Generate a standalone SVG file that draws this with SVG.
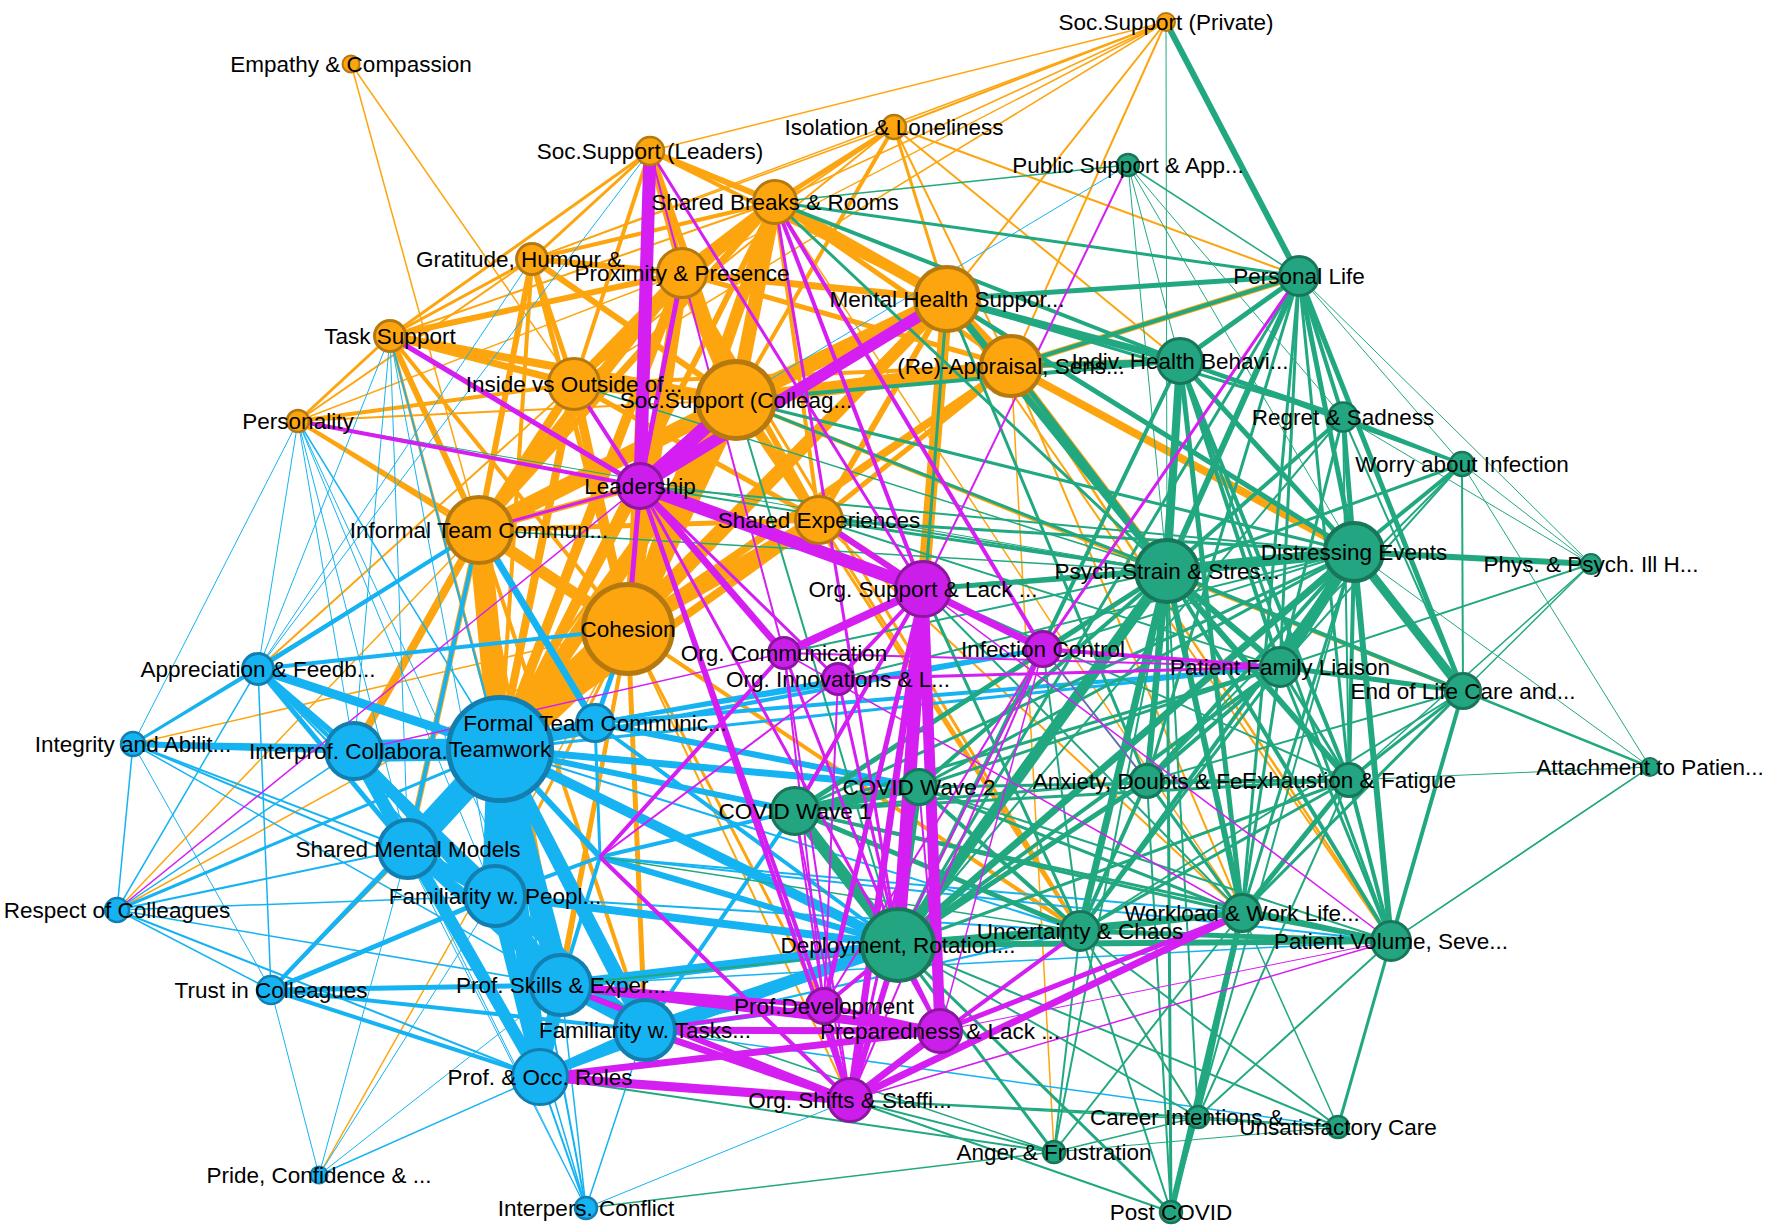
<svg xmlns="http://www.w3.org/2000/svg" width="1772" height="1232" viewBox="0 0 1772 1232">
<style>
path{fill:none;stroke-linecap:butt}
.o{stroke:#FDA50F}.b{stroke:#16B3F2}.g{stroke:#22A881}.m{stroke:#D41EF2}
.no{fill:#FDA50F;stroke:#B5790F}.nb{fill:#16B3F2;stroke:#127FB0}.nm{fill:#CC1EEA;stroke:#8C169F}.ng{fill:#22A580;stroke:#18765A}
text{font-family:"Liberation Sans",Arial,Helvetica,sans-serif;font-size:22.5px;fill:#000;text-anchor:middle;dominant-baseline:central}
.st{text-anchor:start}
</style>
<rect width="1772" height="1232" fill="#fff"/>
<g id="connectors">
<g id="edges-orange">
<path class="o" stroke-width="34" d="M500 749 628 629"/>
<path class="o" stroke-width="22" d="M500 749 479 530"/>
<path class="o" stroke-width="16" d="M500 749 736 400"/>
<path class="o" stroke-width="10" d="M500 749 682 273"/>
<path class="o" stroke-width="9" d="M500 749 947 299"/>
<path class="o" stroke-width="6" d="M500 749 775 202"/>
<path class="o" stroke-width="8" d="M500 749 574 384"/>
<path class="o" stroke-width="4" d="M500 749 532 259"/>
<path class="o" stroke-width="3" d="M500 749 390 336"/>
<path class="o" stroke-width="8" d="M500 749 819 520"/>
<path class="o" stroke-width="8" d="M500 749 640 486"/>
<path class="o" stroke-width="16" d="M479 530 736 400"/>
<path class="o" stroke-width="12" d="M479 530 682 273"/>
<path class="o" stroke-width="12" d="M479 530 628 629"/>
<path class="o" stroke-width="9" d="M479 530 574 384"/>
<path class="o" stroke-width="6" d="M479 530 532 259"/>
<path class="o" stroke-width="6" d="M479 530 390 336"/>
<path class="o" stroke-width="7" d="M479 530 775 202"/>
<path class="o" stroke-width="6" d="M479 530 947 299"/>
<path class="o" stroke-width="5" d="M479 530 819 520"/>
<path class="o" stroke-width="4" d="M479 530 298 421"/>
<path class="o" stroke-width="6" d="M479 530 640 486"/>
<path class="o" stroke-width="20" d="M628 629 736 400"/>
<path class="o" stroke-width="14" d="M628 629 682 273"/>
<path class="o" stroke-width="12" d="M628 629 775 202"/>
<path class="o" stroke-width="12" d="M628 629 947 299"/>
<path class="o" stroke-width="14" d="M628 629 819 520"/>
<path class="o" stroke-width="9" d="M628 629 574 384"/>
<path class="o" stroke-width="5" d="M628 629 532 259"/>
<path class="o" stroke-width="8" d="M628 629 1011 366"/>
<path class="o" stroke-width="4" d="M628 629 390 336"/>
<path class="o" stroke-width="3" d="M628 629 298 421"/>
<path class="o" stroke-width="5" d="M628 629 650 151"/>
<path class="o" stroke-width="10" d="M628 629 640 486"/>
<path class="o" stroke-width="16" d="M736 400 947 299"/>
<path class="o" stroke-width="14" d="M736 400 775 202"/>
<path class="o" stroke-width="14" d="M736 400 682 273"/>
<path class="o" stroke-width="14" d="M736 400 1011 366"/>
<path class="o" stroke-width="10" d="M736 400 574 384"/>
<path class="o" stroke-width="6" d="M736 400 532 259"/>
<path class="o" stroke-width="7" d="M736 400 650 151"/>
<path class="o" stroke-width="8" d="M736 400 390 336"/>
<path class="o" stroke-width="10" d="M736 400 819 520"/>
<path class="o" stroke-width="4" d="M736 400 894 127"/>
<path class="o" stroke-width="2" d="M736 400 298 421"/>
<path class="o" stroke-width="11" d="M947 299 775 202"/>
<path class="o" stroke-width="10" d="M947 299 1011 366"/>
<path class="o" stroke-width="7" d="M947 299 682 273"/>
<path class="o" stroke-width="12" d="M947 299 923 589"/>
<path class="o" stroke-width="3" d="M947 299 894 127"/>
<path class="o" stroke-width="4" d="M947 299 650 151"/>
<path class="o" stroke-width="3" d="M947 299 532 259"/>
<path class="o" stroke-width="6" d="M947 299 819 520"/>
<path class="o" stroke-width="11" d="M775 202 682 273"/>
<path class="o" stroke-width="6" d="M775 202 650 151"/>
<path class="o" stroke-width="5" d="M775 202 894 127"/>
<path class="o" stroke-width="6" d="M775 202 574 384"/>
<path class="o" stroke-width="4" d="M775 202 532 259"/>
<path class="o" stroke-width="5" d="M775 202 1011 366"/>
<path class="o" stroke-width="4" d="M775 202 819 520"/>
<path class="o" stroke-width="9" d="M682 273 574 384"/>
<path class="o" stroke-width="7" d="M682 273 650 151"/>
<path class="o" stroke-width="6" d="M682 273 532 259"/>
<path class="o" stroke-width="6" d="M682 273 390 336"/>
<path class="o" stroke-width="5" d="M682 273 1011 366"/>
<path class="o" stroke-width="6" d="M682 273 819 520"/>
<path class="o" stroke-width="5" d="M574 384 532 259"/>
<path class="o" stroke-width="7" d="M574 384 390 336"/>
<path class="o" stroke-width="4" d="M574 384 298 421"/>
<path class="o" stroke-width="4" d="M574 384 650 151"/>
<path class="o" stroke-width="4" d="M574 384 1011 366"/>
<path class="o" stroke-width="8" d="M1011 366 1354 552"/>
<path class="o" stroke-width="7" d="M1011 366 1167 571"/>
<path class="o" stroke-width="6" d="M1011 366 1180 361"/>
<path class="o" stroke-width="6" d="M1011 366 1299 276"/>
<path class="o" stroke-width="5" d="M1011 366 819 520"/>
<path class="o" stroke-width="1.5" d="M1011 366 1054 1152"/>
<path class="o" stroke-width="2" d="M1011 366 894 127"/>
<path class="o" stroke-width="2.5" d="M1011 366 1391 941"/>
<path class="o" stroke-width="2" d="M1011 366 1242 913"/>
<path class="o" stroke-width="4" d="M736 400 1463 691"/>
<path class="o" stroke-width="5" d="M819 520 574 384"/>
<path class="o" stroke-width="3" d="M819 520 1080 931"/>
<path class="o" stroke-width="2" d="M819 520 1242 913"/>
<path class="o" stroke-width="6" d="M819 520 923 589"/>
<path class="o" stroke-width="1.5" d="M819 520 1198 1117"/>
<path class="o" stroke-width="2" d="M894 127 1166 22"/>
<path class="o" stroke-width="2" d="M894 127 1299 276"/>
<path class="o" stroke-width="2" d="M894 127 1180 361"/>
<path class="o" stroke-width="2" d="M894 127 682 273"/>
<path class="o" stroke-width="1.5" d="M894 127 532 259"/>
<path class="o" stroke-width="2" d="M894 127 574 384"/>
<path class="o" stroke-width="1.5" d="M1166 22 650 151"/>
<path class="o" stroke-width="1.5" d="M1166 22 682 273"/>
<path class="o" stroke-width="1.5" d="M1166 22 775 202"/>
<path class="o" stroke-width="1.5" d="M1166 22 532 259"/>
<path class="o" stroke-width="2" d="M1166 22 947 299"/>
<path class="o" stroke-width="2" d="M1166 22 1011 366"/>
<path class="o" stroke-width="1.5" d="M1166 22 574 384"/>
<path class="o" stroke-width="1.5" d="M351 64 479 530"/>
<path class="o" stroke-width="1.5" d="M351 64 574 384"/>
<path class="o" stroke-width="3" d="M390 336 532 259"/>
<path class="o" stroke-width="3" d="M390 336 298 421"/>
<path class="o" stroke-width="3" d="M390 336 650 151"/>
<path class="o" stroke-width="2" d="M390 336 775 202"/>
<path class="o" stroke-width="3" d="M532 259 650 151"/>
<path class="o" stroke-width="3" d="M532 259 775 202"/>
<path class="o" stroke-width="2" d="M532 259 298 421"/>
<path class="o" stroke-width="1.5" d="M298 421 682 273"/>
<path class="o" stroke-width="8" d="M479 530 354 751"/>
<path class="o" stroke-width="6" d="M479 530 408 849"/>
<path class="o" stroke-width="4" d="M479 530 561 985"/>
<path class="o" stroke-width="4" d="M479 530 645 1030"/>
<path class="o" stroke-width="3" d="M628 629 495 896"/>
<path class="o" stroke-width="3" d="M628 629 540 1077"/>
<path class="o" stroke-width="3" d="M736 400 408 849"/>
<path class="o" stroke-width="4" d="M628 629 561 985"/>
<path class="o" stroke-width="5" d="M628 629 645 1030"/>
<path class="o" stroke-width="3" d="M628 629 824 1006"/>
<path class="o" stroke-width="2" d="M628 629 850 1100"/>
<path class="o" stroke-width="4" d="M628 629 1080 931"/>
<path class="o" stroke-width="3" d="M736 400 1080 931"/>
<path class="o" stroke-width="3" d="M682 273 1080 931"/>
<path class="o" stroke-width="2" d="M947 299 1391 941"/>
<path class="o" stroke-width="1.5" d="M775 202 1242 913"/>
<path class="o" stroke-width="1.5" d="M133 744 479 530"/>
<path class="o" stroke-width="2" d="M258 669 574 384"/>
<path class="o" stroke-width="1.5" d="M117 910 479 530"/>
<path class="o" stroke-width="1.5" d="M117 910 628 629"/>
<path class="o" stroke-width="1.5" d="M271 990 628 629"/>
<path class="o" stroke-width="1.5" d="M319 1175 628 629"/>
<path class="o" stroke-width="1.5" d="M133 744 628 629"/>
</g>
<g id="edges-blue">
<path class="b" stroke-width="22" d="M500 749 354 751"/>
<path class="b" stroke-width="26" d="M500 749 408 849"/>
<path class="b" stroke-width="26" d="M500 749 495 896"/>
<path class="b" stroke-width="22" d="M500 749 561 985"/>
<path class="b" stroke-width="14" d="M500 749 645 1030"/>
<path class="b" stroke-width="18" d="M500 749 540 1077"/>
<path class="b" stroke-width="12" d="M500 749 595 723"/>
<path class="b" stroke-width="9" d="M500 749 258 669"/>
<path class="b" stroke-width="5" d="M500 749 133 744"/>
<path class="b" stroke-width="3" d="M500 749 117 910"/>
<path class="b" stroke-width="4" d="M500 749 271 990"/>
<path class="b" stroke-width="10" d="M500 749 898 945"/>
<path class="b" stroke-width="7" d="M500 749 919 787"/>
<path class="b" stroke-width="6" d="M500 749 795 811"/>
<path class="b" stroke-width="4" d="M500 749 1043 649"/>
<path class="b" stroke-width="3" d="M500 749 1280 667"/>
<path class="b" stroke-width="6" d="M500 749 600 857"/>
<path class="b" stroke-width="2" d="M500 749 586 1208"/>
<path class="b" stroke-width="12" d="M354 751 408 849"/>
<path class="b" stroke-width="9" d="M354 751 495 896"/>
<path class="b" stroke-width="12" d="M354 751 540 1077"/>
<path class="b" stroke-width="9" d="M354 751 561 985"/>
<path class="b" stroke-width="6" d="M354 751 258 669"/>
<path class="b" stroke-width="6" d="M354 751 133 744"/>
<path class="b" stroke-width="5" d="M354 751 645 1030"/>
<path class="b" stroke-width="12" d="M408 849 495 896"/>
<path class="b" stroke-width="9" d="M408 849 561 985"/>
<path class="b" stroke-width="10" d="M408 849 540 1077"/>
<path class="b" stroke-width="6" d="M408 849 645 1030"/>
<path class="b" stroke-width="12" d="M495 896 561 985"/>
<path class="b" stroke-width="10" d="M495 896 645 1030"/>
<path class="b" stroke-width="12" d="M495 896 540 1077"/>
<path class="b" stroke-width="8" d="M495 896 898 945"/>
<path class="b" stroke-width="12" d="M561 985 645 1030"/>
<path class="b" stroke-width="14" d="M561 985 540 1077"/>
<path class="b" stroke-width="10" d="M561 985 898 945"/>
<path class="b" stroke-width="5" d="M561 985 271 990"/>
<path class="b" stroke-width="10" d="M645 1030 540 1077"/>
<path class="b" stroke-width="12" d="M645 1030 898 945"/>
<path class="b" stroke-width="4" d="M645 1030 795 811"/>
<path class="b" stroke-width="2" d="M540 1077 586 1208"/>
<path class="b" stroke-width="4" d="M540 1077 271 990"/>
<path class="b" stroke-width="1.5" d="M540 1077 319 1175"/>
<path class="b" stroke-width="6" d="M540 1077 898 945"/>
<path class="b" stroke-width="4" d="M595 723 1043 649"/>
<path class="b" stroke-width="4" d="M595 723 1280 667"/>
<path class="b" stroke-width="6" d="M595 723 919 787"/>
<path class="b" stroke-width="4" d="M595 723 898 945"/>
<path class="b" stroke-width="3" d="M595 723 600 857"/>
<path class="b" stroke-width="3" d="M595 723 838 679"/>
<path class="b" stroke-width="6" d="M600 857 898 945"/>
<path class="b" stroke-width="4" d="M600 857 795 811"/>
<path class="b" stroke-width="4" d="M600 857 495 896"/>
<path class="b" stroke-width="4" d="M600 857 561 985"/>
<path class="b" stroke-width="4" d="M258 669 479 530"/>
<path class="b" stroke-width="5" d="M258 669 408 849"/>
<path class="b" stroke-width="4" d="M258 669 495 896"/>
<path class="b" stroke-width="3" d="M258 669 133 744"/>
<path class="b" stroke-width="1.5" d="M258 669 117 910"/>
<path class="b" stroke-width="1.5" d="M258 669 271 990"/>
<path class="b" stroke-width="4" d="M258 669 628 629"/>
<path class="b" stroke-width="2" d="M258 669 561 985"/>
<path class="b" stroke-width="2" d="M133 744 408 849"/>
<path class="b" stroke-width="2" d="M133 744 495 896"/>
<path class="b" stroke-width="1.5" d="M133 744 117 910"/>
<path class="b" stroke-width="1" d="M133 744 271 990"/>
<path class="b" stroke-width="1.5" d="M133 744 561 985"/>
<path class="b" stroke-width="2" d="M117 910 408 849"/>
<path class="b" stroke-width="1.5" d="M117 910 495 896"/>
<path class="b" stroke-width="1.5" d="M117 910 271 990"/>
<path class="b" stroke-width="1.5" d="M117 910 561 985"/>
<path class="b" stroke-width="2" d="M117 910 540 1077"/>
<path class="b" stroke-width="1.5" d="M117 910 354 751"/>
<path class="b" stroke-width="3" d="M271 990 408 849"/>
<path class="b" stroke-width="5" d="M271 990 495 896"/>
<path class="b" stroke-width="4" d="M271 990 645 1030"/>
<path class="b" stroke-width="1" d="M319 1175 271 990"/>
<path class="b" stroke-width="1" d="M319 1175 495 896"/>
<path class="b" stroke-width="1" d="M319 1175 408 849"/>
<path class="b" stroke-width="1" d="M319 1175 561 985"/>
<path class="b" stroke-width="1.5" d="M586 1208 561 985"/>
<path class="b" stroke-width="1.5" d="M586 1208 645 1030"/>
<path class="b" stroke-width="1" d="M586 1208 408 849"/>
<path class="b" stroke-width="1.5" d="M586 1208 495 896"/>
<path class="b" stroke-width="1" d="M586 1208 354 751"/>
<path class="b" stroke-width="1" d="M586 1208 850 1100"/>
<path class="b" stroke-width="1" d="M298 421 354 751"/>
<path class="b" stroke-width="1" d="M298 421 408 849"/>
<path class="b" stroke-width="1.5" d="M298 421 500 749"/>
<path class="b" stroke-width="1" d="M298 421 258 669"/>
<path class="b" stroke-width="1" d="M298 421 495 896"/>
<path class="b" stroke-width="1" d="M298 421 561 985"/>
<path class="b" stroke-width="1" d="M298 421 133 744"/>
<path class="b" stroke-width="1" d="M390 336 354 751"/>
<path class="b" stroke-width="1" d="M390 336 408 849"/>
<path class="b" stroke-width="1.5" d="M390 336 500 749"/>
<path class="b" stroke-width="1" d="M390 336 258 669"/>
<path class="b" stroke-width="1" d="M390 336 561 985"/>
<path class="b" stroke-width="1" d="M390 336 495 896"/>
<path class="b" stroke-width="1" d="M532 259 258 669"/>
<path class="b" stroke-width="1" d="M650 151 258 669"/>
<path class="b" stroke-width="7" d="M479 530 595 723"/>
<path class="b" stroke-width="3" d="M479 530 258 669"/>
<path class="b" stroke-width="4" d="M479 530 408 849"/>
<path class="b" stroke-width="2" d="M479 530 133 744"/>
<path class="b" stroke-width="5" d="M628 629 595 723"/>
<path class="b" stroke-width="2" d="M645 1030 1080 931"/>
<path class="b" stroke-width="1.5" d="M561 985 1391 941"/>
<path class="b" stroke-width="2" d="M500 749 1080 931"/>
<path class="b" stroke-width="2" d="M495 896 1080 931"/>
<path class="b" stroke-width="2" d="M600 857 1391 941"/>
<path class="b" stroke-width="2" d="M600 857 1242 913"/>
<path class="b" stroke-width="1.5" d="M645 1030 1338 1127"/>
<path class="b" stroke-width="5" d="M645 1030 940 1031"/>
<path class="b" stroke-width="5" d="M645 1030 824 1006"/>
<path class="b" stroke-width="4" d="M561 985 940 1031"/>
<path class="b" stroke-width="1" d="M1128 165 736 400"/>
<path class="b" stroke-width="1" d="M1354 552 1147 781"/>
</g>
<g id="edges-green">
<path class="g" stroke-width="11" d="M1167 571 1354 552"/>
<path class="g" stroke-width="8" d="M1167 571 1180 361"/>
<path class="g" stroke-width="6" d="M1167 571 1299 276"/>
<path class="g" stroke-width="11" d="M1167 571 898 945"/>
<path class="g" stroke-width="7" d="M1167 571 1080 931"/>
<path class="g" stroke-width="6" d="M1167 571 1242 913"/>
<path class="g" stroke-width="6" d="M1167 571 1349 780"/>
<path class="g" stroke-width="6" d="M1167 571 1147 781"/>
<path class="g" stroke-width="6" d="M1167 571 1280 667"/>
<path class="g" stroke-width="7" d="M1167 571 947 299"/>
<path class="g" stroke-width="5" d="M1167 571 1011 366"/>
<path class="g" stroke-width="4" d="M1167 571 1343 417"/>
<path class="g" stroke-width="3" d="M1167 571 1462 464"/>
<path class="g" stroke-width="4" d="M1167 571 1463 691"/>
<path class="g" stroke-width="5" d="M1167 571 795 811"/>
<path class="g" stroke-width="4" d="M1167 571 919 787"/>
<path class="g" stroke-width="4" d="M1167 571 1391 941"/>
<path class="g" stroke-width="5" d="M1167 571 923 589"/>
<path class="g" stroke-width="2" d="M1167 571 1198 1117"/>
<path class="g" stroke-width="2" d="M1167 571 1054 1152"/>
<path class="g" stroke-width="3" d="M1167 571 1171 1212"/>
<path class="g" stroke-width="3" d="M1167 571 736 400"/>
<path class="g" stroke-width="3" d="M1167 571 819 520"/>
<path class="g" stroke-width="2" d="M1167 571 640 486"/>
<path class="g" stroke-width="11" d="M1354 552 1280 667"/>
<path class="g" stroke-width="9" d="M1354 552 1463 691"/>
<path class="g" stroke-width="6" d="M1354 552 1591 564"/>
<path class="g" stroke-width="5" d="M1354 552 1343 417"/>
<path class="g" stroke-width="4" d="M1354 552 1462 464"/>
<path class="g" stroke-width="5" d="M1354 552 1299 276"/>
<path class="g" stroke-width="5" d="M1354 552 1180 361"/>
<path class="g" stroke-width="7" d="M1354 552 898 945"/>
<path class="g" stroke-width="6" d="M1354 552 1391 941"/>
<path class="g" stroke-width="4" d="M1354 552 1349 780"/>
<path class="g" stroke-width="4" d="M1354 552 1147 781"/>
<path class="g" stroke-width="4" d="M1354 552 1080 931"/>
<path class="g" stroke-width="3" d="M1354 552 1242 913"/>
<path class="g" stroke-width="3" d="M1354 552 795 811"/>
<path class="g" stroke-width="5" d="M1354 552 947 299"/>
<path class="g" stroke-width="1" d="M1354 552 1650 767"/>
<path class="g" stroke-width="2" d="M1354 552 1171 1212"/>
<path class="g" stroke-width="3" d="M1354 552 736 400"/>
<path class="g" stroke-width="3" d="M1354 552 923 589"/>
<path class="g" stroke-width="6" d="M1299 276 1166 22"/>
<path class="g" stroke-width="5" d="M1299 276 1180 361"/>
<path class="g" stroke-width="4" d="M1299 276 1343 417"/>
<path class="g" stroke-width="5" d="M1299 276 1463 691"/>
<path class="g" stroke-width="1.5" d="M1299 276 1128 165"/>
<path class="g" stroke-width="5" d="M1299 276 947 299"/>
<path class="g" stroke-width="3" d="M1299 276 1280 667"/>
<path class="g" stroke-width="1" d="M1299 276 1462 464"/>
<path class="g" stroke-width="1" d="M1299 276 1591 564"/>
<path class="g" stroke-width="3" d="M1299 276 775 202"/>
<path class="g" stroke-width="3" d="M1299 276 898 945"/>
<path class="g" stroke-width="3" d="M1299 276 1349 780"/>
<path class="g" stroke-width="3" d="M1299 276 1242 913"/>
<path class="g" stroke-width="3" d="M1299 276 1147 781"/>
<path class="g" stroke-width="4" d="M1299 276 1011 366"/>
<path class="g" stroke-width="4" d="M1180 361 1343 417"/>
<path class="g" stroke-width="3" d="M1180 361 1462 464"/>
<path class="g" stroke-width="4" d="M1180 361 1349 780"/>
<path class="g" stroke-width="5" d="M1180 361 1242 913"/>
<path class="g" stroke-width="7" d="M1180 361 947 299"/>
<path class="g" stroke-width="4" d="M1180 361 1147 781"/>
<path class="g" stroke-width="4" d="M1180 361 898 945"/>
<path class="g" stroke-width="4" d="M1180 361 775 202"/>
<path class="g" stroke-width="3" d="M1180 361 1391 941"/>
<path class="g" stroke-width="4" d="M1180 361 1280 667"/>
<path class="g" stroke-width="5" d="M1180 361 1011 366"/>
<path class="g" stroke-width="4" d="M1180 361 736 400"/>
<path class="g" stroke-width="3" d="M775 202 1167 571"/>
<path class="g" stroke-width="3" d="M1343 417 1462 464"/>
<path class="g" stroke-width="2" d="M1343 417 1463 691"/>
<path class="g" stroke-width="3" d="M1343 417 1280 667"/>
<path class="g" stroke-width="2" d="M1343 417 898 945"/>
<path class="g" stroke-width="1" d="M1343 417 1591 564"/>
<path class="g" stroke-width="2" d="M1343 417 1349 780"/>
<path class="g" stroke-width="3" d="M1343 417 947 299"/>
<path class="g" stroke-width="1" d="M1462 464 1591 564"/>
<path class="g" stroke-width="1" d="M1462 464 1650 767"/>
<path class="g" stroke-width="2" d="M1462 464 1280 667"/>
<path class="g" stroke-width="2" d="M1462 464 1147 781"/>
<path class="g" stroke-width="2" d="M1462 464 1463 691"/>
<path class="g" stroke-width="2" d="M1591 564 1280 667"/>
<path class="g" stroke-width="1.5" d="M1591 564 1463 691"/>
<path class="g" stroke-width="1.5" d="M1591 564 1349 780"/>
<path class="g" stroke-width="5" d="M1280 667 1463 691"/>
<path class="g" stroke-width="3" d="M1280 667 1349 780"/>
<path class="g" stroke-width="4" d="M1280 667 1147 781"/>
<path class="g" stroke-width="4" d="M1280 667 898 945"/>
<path class="g" stroke-width="3" d="M1280 667 1080 931"/>
<path class="g" stroke-width="3" d="M1280 667 1242 913"/>
<path class="g" stroke-width="3" d="M1280 667 1391 941"/>
<path class="g" stroke-width="3" d="M1280 667 795 811"/>
<path class="g" stroke-width="2.5" d="M1463 691 1650 767"/>
<path class="g" stroke-width="3" d="M1463 691 1349 780"/>
<path class="g" stroke-width="4" d="M1463 691 1391 941"/>
<path class="g" stroke-width="2" d="M1463 691 1080 931"/>
<path class="g" stroke-width="2" d="M1463 691 1147 781"/>
<path class="g" stroke-width="3" d="M1463 691 1242 913"/>
<path class="g" stroke-width="1.5" d="M1650 767 1391 941"/>
<path class="g" stroke-width="1" d="M1650 767 1349 780"/>
<path class="g" stroke-width="3" d="M1147 781 1349 780"/>
<path class="g" stroke-width="4" d="M1147 781 1080 931"/>
<path class="g" stroke-width="5" d="M1147 781 898 945"/>
<path class="g" stroke-width="3" d="M1147 781 1242 913"/>
<path class="g" stroke-width="3" d="M1147 781 795 811"/>
<path class="g" stroke-width="2" d="M1147 781 1171 1212"/>
<path class="g" stroke-width="3" d="M1147 781 947 299"/>
<path class="g" stroke-width="5" d="M1349 780 1242 913"/>
<path class="g" stroke-width="4" d="M1349 780 1391 941"/>
<path class="g" stroke-width="3" d="M1349 780 1080 931"/>
<path class="g" stroke-width="3" d="M1349 780 898 945"/>
<path class="g" stroke-width="2" d="M1349 780 1198 1117"/>
<path class="g" stroke-width="3" d="M1349 780 919 787"/>
<path class="g" stroke-width="10" d="M795 811 919 787"/>
<path class="g" stroke-width="12" d="M795 811 898 945"/>
<path class="g" stroke-width="6" d="M919 787 898 945"/>
<path class="g" stroke-width="5" d="M795 811 1080 931"/>
<path class="g" stroke-width="4" d="M919 787 1080 931"/>
<path class="g" stroke-width="3" d="M795 811 1242 913"/>
<path class="g" stroke-width="3" d="M919 787 1242 913"/>
<path class="g" stroke-width="3" d="M795 811 1391 941"/>
<path class="g" stroke-width="3" d="M795 811 1349 780"/>
<path class="g" stroke-width="3" d="M919 787 1280 667"/>
<path class="g" stroke-width="3" d="M919 787 1354 552"/>
<path class="g" stroke-width="2" d="M919 787 1391 941"/>
<path class="g" stroke-width="3" d="M795 811 923 589"/>
<path class="g" stroke-width="9" d="M898 945 1080 931"/>
<path class="g" stroke-width="6" d="M898 945 1242 913"/>
<path class="g" stroke-width="6" d="M898 945 1391 941"/>
<path class="g" stroke-width="2" d="M898 945 1198 1117"/>
<path class="g" stroke-width="3" d="M898 945 1054 1152"/>
<path class="g" stroke-width="3" d="M898 945 1171 1212"/>
<path class="g" stroke-width="2" d="M898 945 1338 1127"/>
<path class="g" stroke-width="5" d="M898 945 923 589"/>
<path class="g" stroke-width="5" d="M1080 931 1242 913"/>
<path class="g" stroke-width="5" d="M1080 931 1391 941"/>
<path class="g" stroke-width="2" d="M1080 931 1054 1152"/>
<path class="g" stroke-width="2" d="M1080 931 1198 1117"/>
<path class="g" stroke-width="2" d="M1080 931 1338 1127"/>
<path class="g" stroke-width="2" d="M1080 931 1171 1212"/>
<path class="g" stroke-width="5" d="M1242 913 1391 941"/>
<path class="g" stroke-width="6" d="M1242 913 1171 1212"/>
<path class="g" stroke-width="3" d="M1242 913 1198 1117"/>
<path class="g" stroke-width="2" d="M1242 913 1054 1152"/>
<path class="g" stroke-width="1.5" d="M1242 913 1338 1127"/>
<path class="g" stroke-width="3" d="M1391 941 1338 1127"/>
<path class="g" stroke-width="1.5" d="M1391 941 1650 767"/>
<path class="g" stroke-width="2" d="M1391 941 1198 1117"/>
<path class="g" stroke-width="1.5" d="M1198 1117 1054 1152"/>
<path class="g" stroke-width="1.5" d="M1198 1117 1338 1127"/>
<path class="g" stroke-width="1" d="M1054 1152 1338 1127"/>
<path class="g" stroke-width="2" d="M1054 1152 850 1100"/>
<path class="g" stroke-width="1.5" d="M1054 1152 586 1208"/>
<path class="g" stroke-width="2" d="M1054 1152 540 1077"/>
<path class="g" stroke-width="1.5" d="M1054 1152 561 985"/>
<path class="g" stroke-width="2" d="M850 1100 1198 1117"/>
<path class="g" stroke-width="1.5" d="M850 1100 1338 1127"/>
<path class="g" stroke-width="2" d="M850 1100 1171 1212"/>
<path class="g" stroke-width="1" d="M1128 165 1354 552"/>
<path class="g" stroke-width="1" d="M1128 165 1167 571"/>
<path class="g" stroke-width="1" d="M1128 165 1180 361"/>
<path class="g" stroke-width="1" d="M1128 165 1343 417"/>
<path class="g" stroke-width="1.5" d="M1128 165 775 202"/>
<path class="g" stroke-width="1" d="M1166 22 1167 571"/>
<path class="g" stroke-width="3" d="M947 299 898 945"/>
<path class="g" stroke-width="2" d="M736 400 898 945"/>
<path class="g" stroke-width="3" d="M923 589 1080 931"/>
<path class="g" stroke-width="2" d="M923 589 1242 913"/>
<path class="g" stroke-width="2" d="M923 589 1349 780"/>
<path class="g" stroke-width="1.5" d="M600 857 1080 931"/>
<path class="g" stroke-width="2" d="M561 985 1080 931"/>
<path class="g" stroke-width="1" d="M298 421 1167 571"/>
<path class="g" stroke-width="1.5" d="M574 384 1167 571"/>
<path class="g" stroke-width="1.5" d="M479 530 1167 571"/>
<path class="g" stroke-width="3" d="M819 520 1354 552"/>
<path class="g" stroke-width="2" d="M819 520 1280 667"/>
<path class="g" stroke-width="2" d="M640 486 1354 552"/>
<path class="g" stroke-width="2" d="M784 653 1167 571"/>
<path class="g" stroke-width="2" d="M838 679 1354 552"/>
<path class="g" stroke-width="3" d="M1043 649 1167 571"/>
<path class="g" stroke-width="2" d="M1043 649 1354 552"/>
<path class="g" stroke-width="2" d="M1043 649 1147 781"/>
<path class="g" stroke-width="2" d="M1043 649 1080 931"/>
</g>
<g id="edges-magenta">
<path class="m" stroke-width="13" d="M640 486 650 151"/>
<path class="m" stroke-width="14" d="M640 486 736 400"/>
<path class="m" stroke-width="12" d="M640 486 947 299"/>
<path class="m" stroke-width="13" d="M640 486 923 589"/>
<path class="m" stroke-width="5" d="M640 486 390 336"/>
<path class="m" stroke-width="4" d="M640 486 298 421"/>
<path class="m" stroke-width="7" d="M640 486 784 653"/>
<path class="m" stroke-width="4" d="M640 486 850 1100"/>
<path class="m" stroke-width="4" d="M640 486 824 1006"/>
<path class="m" stroke-width="3" d="M640 486 838 679"/>
<path class="m" stroke-width="3" d="M640 486 940 1031"/>
<path class="m" stroke-width="3" d="M640 486 479 530"/>
<path class="m" stroke-width="1.5" d="M640 486 117 910"/>
<path class="m" stroke-width="5" d="M640 486 682 273"/>
<path class="m" stroke-width="4" d="M640 486 574 384"/>
<path class="m" stroke-width="5" d="M640 486 628 629"/>
<path class="m" stroke-width="13" d="M923 589 898 945"/>
<path class="m" stroke-width="11" d="M923 589 940 1031"/>
<path class="m" stroke-width="7" d="M923 589 850 1100"/>
<path class="m" stroke-width="7" d="M923 589 1043 649"/>
<path class="m" stroke-width="8" d="M923 589 784 653"/>
<path class="m" stroke-width="4" d="M923 589 775 202"/>
<path class="m" stroke-width="3" d="M923 589 650 151"/>
<path class="m" stroke-width="2" d="M923 589 1128 165"/>
<path class="m" stroke-width="4" d="M923 589 795 811"/>
<path class="m" stroke-width="5" d="M923 589 824 1006"/>
<path class="m" stroke-width="4" d="M923 589 838 679"/>
<path class="m" stroke-width="6" d="M923 589 819 520"/>
<path class="m" stroke-width="1.5" d="M923 589 1391 941"/>
<path class="m" stroke-width="4" d="M775 202 1043 649"/>
<path class="m" stroke-width="3" d="M775 202 898 945"/>
<path class="m" stroke-width="3" d="M1299 276 1043 649"/>
<path class="m" stroke-width="4" d="M1043 649 1280 667"/>
<path class="m" stroke-width="3" d="M838 679 1280 667"/>
<path class="m" stroke-width="2" d="M784 653 1280 667"/>
<path class="m" stroke-width="1" d="M1043 649 1147 781"/>
<path class="m" stroke-width="2" d="M1043 649 850 1100"/>
<path class="m" stroke-width="2" d="M1043 649 898 945"/>
<path class="m" stroke-width="1.5" d="M1043 649 940 1031"/>
<path class="m" stroke-width="2" d="M1043 649 824 1006"/>
<path class="m" stroke-width="6" d="M898 945 850 1100"/>
<path class="m" stroke-width="7" d="M940 1031 850 1100"/>
<path class="m" stroke-width="4" d="M824 1006 850 1100"/>
<path class="m" stroke-width="5" d="M824 1006 940 1031"/>
<path class="m" stroke-width="4" d="M898 945 940 1031"/>
<path class="m" stroke-width="4" d="M898 945 824 1006"/>
<path class="m" stroke-width="9" d="M850 1100 540 1077"/>
<path class="m" stroke-width="7" d="M850 1100 645 1030"/>
<path class="m" stroke-width="6" d="M850 1100 561 985"/>
<path class="m" stroke-width="9" d="M940 1031 561 985"/>
<path class="m" stroke-width="7" d="M940 1031 540 1077"/>
<path class="m" stroke-width="7" d="M940 1031 645 1030"/>
<path class="m" stroke-width="5" d="M824 1006 561 985"/>
<path class="m" stroke-width="4" d="M824 1006 645 1030"/>
<path class="m" stroke-width="7" d="M850 1100 1242 913"/>
<path class="m" stroke-width="5" d="M940 1031 1242 913"/>
<path class="m" stroke-width="4" d="M850 1100 1080 931"/>
<path class="m" stroke-width="1.5" d="M850 1100 1391 941"/>
<path class="m" stroke-width="1" d="M940 1031 1391 941"/>
<path class="m" stroke-width="2" d="M850 1100 795 811"/>
<path class="m" stroke-width="3" d="M850 1100 919 787"/>
<path class="m" stroke-width="2" d="M850 1100 784 653"/>
<path class="m" stroke-width="4" d="M850 1100 600 857"/>
<path class="m" stroke-width="2" d="M824 1006 795 811"/>
<path class="m" stroke-width="2" d="M940 1031 919 787"/>
<path class="m" stroke-width="2" d="M824 1006 838 679"/>
<path class="m" stroke-width="4" d="M784 653 600 857"/>
<path class="m" stroke-width="2" d="M838 679 600 857"/>
<path class="m" stroke-width="1.5" d="M784 653 354 751"/>
<path class="m" stroke-width="3" d="M784 653 898 945"/>
<path class="m" stroke-width="3" d="M838 679 898 945"/>
<path class="m" stroke-width="2" d="M650 151 784 653"/>
<path class="m" stroke-width="2" d="M824 1006 784 653"/>
<path class="m" stroke-width="1.5" d="M784 653 1242 913"/>
</g>
</g>
<g id="nodes">
<g id="n-teamwork"><circle class="nb" cx="500" cy="749" r="51.5" stroke-width="5"/><text x="500" y="749">Teamwork</text></g>
<g id="n-cohesion"><circle class="no" cx="628" cy="629" r="44.5" stroke-width="5"/><text x="628" y="629">Cohesion</text></g>
<g id="n-socsupport-colleagues"><circle class="no" cx="736" cy="400" r="38.5" stroke-width="5"/><text x="736" y="400">Soc.Support (Colleag...</text></g>
<g id="n-deployment"><circle class="ng" cx="898" cy="945" r="36" stroke-width="4"/><text x="898" y="945">Deployment, Rotation...</text></g>
<g id="n-informal-team-commun"><circle class="no" cx="479" cy="530" r="33" stroke-width="4"/><text x="479" y="530">Informal Team Commun...</text></g>
<g id="n-mental-health-support"><circle class="no" cx="947" cy="299" r="32" stroke-width="4"/><text x="947" y="299">Mental Health Suppor...</text></g>
<g id="n-psych-strain"><circle class="ng" cx="1167" cy="571" r="31" stroke-width="4"/><text x="1167" y="571">Psych.Strain &amp; Stres...</text></g>
<g id="n-reappraisal"><circle class="no" cx="1011" cy="366" r="30" stroke-width="4"/><text x="1011" y="366">(Re)-Appraisal, Sens...</text></g>
<g id="n-familiarity-people"><circle class="nb" cx="495" cy="896" r="30" stroke-width="4"/><text x="495" y="896">Familiarity w. Peopl...</text></g>
<g id="n-prof-skills"><circle class="nb" cx="561" cy="985" r="30" stroke-width="4"/><text x="561" y="985">Prof. Skills &amp; Exper...</text></g>
<g id="n-familiarity-tasks"><circle class="nb" cx="645" cy="1030" r="30" stroke-width="4"/><text x="645" y="1030">Familiarity w. Tasks...</text></g>
<g id="n-shared-mental-models"><circle class="nb" cx="408" cy="849" r="29" stroke-width="4"/><text x="408" y="849">Shared Mental Models</text></g>
<g id="n-distressing-events"><circle class="ng" cx="1354" cy="552" r="29" stroke-width="4"/><text x="1354" y="552">Distressing Events</text></g>
<g id="n-interprof"><circle class="nb" cx="354" cy="751" r="28" stroke-width="4"/><text class="st" x="249" y="751">Interprof. Collabora.</text></g>
<g id="n-org-support"><circle class="nm" cx="923" cy="589" r="27.5" stroke-width="3"/><text x="923" y="589">Org. Support &amp; Lack ...</text></g>
<g id="n-prof-occ-roles"><circle class="nb" cx="540" cy="1077" r="27.5" stroke-width="3"/><text x="540" y="1077">Prof. &amp; Occ. Roles</text></g>
<g id="n-inside-outside"><circle class="no" cx="574" cy="384" r="25.5" stroke-width="3"/><text x="574" y="384">Inside vs Outside of...</text></g>
<g id="n-proximity"><circle class="no" cx="682" cy="273" r="24.5" stroke-width="3"/><text x="682" y="273">Proximity &amp; Presence</text></g>
<g id="n-shared-experiences"><circle class="no" cx="819" cy="520" r="23.5" stroke-width="3"/><text x="819" y="520">Shared Experiences</text></g>
<g id="n-covid-wave-1"><circle class="ng" cx="795" cy="811" r="23.5" stroke-width="3"/><text x="795" y="811">COVID Wave 1</text></g>
<g id="n-leadership"><circle class="nm" cx="640" cy="486" r="22.5" stroke-width="3"/><text x="640" y="486">Leadership</text></g>
<g id="n-indiv-health"><circle class="ng" cx="1180" cy="361" r="22.5" stroke-width="3"/><text x="1180" y="361">Indiv. Health Behavi...</text></g>
<g id="n-shared-breaks"><circle class="no" cx="775" cy="202" r="21.5" stroke-width="3"/><text x="775" y="202">Shared Breaks &amp; Rooms</text></g>
<g id="n-preparedness"><circle class="nm" cx="940" cy="1031" r="21.5" stroke-width="3"/><text x="940" y="1031">Preparedness &amp; Lack ...</text></g>
<g id="n-org-shifts"><circle class="nm" cx="850" cy="1100" r="21.5" stroke-width="3"/><text x="850" y="1100">Org. Shifts &amp; Staffi...</text></g>
<g id="n-personal-life"><circle class="ng" cx="1299" cy="276" r="19.5" stroke-width="3"/><text x="1299" y="276">Personal Life</text></g>
<g id="n-patient-family"><circle class="ng" cx="1280" cy="667" r="19.5" stroke-width="3"/><text x="1280" y="667">Patient Family Liaison</text></g>
<g id="n-uncertainty"><circle class="ng" cx="1080" cy="931" r="19.5" stroke-width="3"/><text x="1080" y="931">Uncertainty &amp; Chaos</text></g>
<g id="n-formal-team-commun"><circle class="nb" cx="595" cy="723" r="18.5" stroke-width="3"/><text x="595" y="723">Formal Team Communic...</text></g>
<g id="n-workload"><circle class="ng" cx="1242" cy="913" r="18.5" stroke-width="3"/><text x="1242" y="913">Workload &amp; Work Life...</text></g>
<g id="n-patient-volume"><circle class="ng" cx="1391" cy="941" r="19.5" stroke-width="3"/><text x="1391" y="941">Patient Volume, Seve...</text></g>
<g id="n-covid-wave-2"><circle class="ng" cx="919" cy="787" r="17.5" stroke-width="3"/><text x="919" y="787">COVID Wave 2</text></g>
<g id="n-infection-control"><circle class="nm" cx="1043" cy="649" r="17.5" stroke-width="3"/><text x="1043" y="649">Infection Control</text></g>
<g id="n-prof-development"><circle class="nm" cx="824" cy="1006" r="17.5" stroke-width="3"/><text x="824" y="1006">Prof.Development</text></g>
<g id="n-end-of-life"><circle class="ng" cx="1463" cy="691" r="17.5" stroke-width="3"/><text x="1463" y="691">End of Life Care and...</text></g>
<g id="n-anxiety"><circle class="ng" cx="1147" cy="781" r="16.5" stroke-width="3"/><text x="1147" y="781">Anxiety, Doubts &amp; Fe...</text></g>
<g id="n-exhaustion"><circle class="ng" cx="1349" cy="780" r="16.5" stroke-width="3"/><text x="1349" y="780">Exhaustion &amp; Fatigue</text></g>
<g id="n-gratitude"><circle class="no" cx="532" cy="259" r="15.5" stroke-width="3"/><text class="st" x="416" y="259">Gratitude, Humour &amp;</text></g>
<g id="n-task-support"><circle class="no" cx="390" cy="336" r="15.5" stroke-width="3"/><text x="390" y="336">Task Support</text></g>
<g id="n-org-communication"><circle class="nm" cx="784" cy="653" r="15.5" stroke-width="3"/><text x="784" y="653">Org. Communication</text></g>
<g id="n-org-innovations"><circle class="nm" cx="838" cy="679" r="15.5" stroke-width="3"/><text x="838" y="679">Org. Innovations &amp; L...</text></g>
<g id="n-appreciation"><circle class="nb" cx="258" cy="669" r="15.5" stroke-width="3"/><text x="258" y="669">Appreciation &amp; Feedb...</text></g>
<g id="n-regret"><circle class="ng" cx="1343" cy="417" r="14.5" stroke-width="2.5"/><text x="1343" y="417">Regret &amp; Sadness</text></g>
<g id="n-trust"><circle class="nb" cx="271" cy="990" r="14" stroke-width="2.5"/><text x="271" y="990">Trust in Colleagues</text></g>
<g id="n-socsupport-leaders"><circle class="no" cx="650" cy="151" r="14" stroke-width="2.5"/><text x="650" y="151">Soc.Support (Leaders)</text></g>
<g id="n-isolation"><circle class="no" cx="894" cy="127" r="12" stroke-width="2.5"/><text x="894" y="127">Isolation &amp; Loneliness</text></g>
<g id="n-integrity"><circle class="nb" cx="133" cy="744" r="12" stroke-width="2.5"/><text x="133" y="744">Integrity and Abilit...</text></g>
<g id="n-respect"><circle class="nb" cx="117" cy="910" r="12" stroke-width="2.5"/><text x="117" y="910">Respect of Colleagues</text></g>
<g id="n-worry"><circle class="ng" cx="1462" cy="464" r="12" stroke-width="2.5"/><text x="1462" y="464">Worry about Infection</text></g>
<g id="n-personality"><circle class="no" cx="298" cy="421" r="11" stroke-width="2.5"/><text x="298" y="421">Personality</text></g>
<g id="n-public-support"><circle class="ng" cx="1128" cy="165" r="11" stroke-width="2.5"/><text x="1128" y="165">Public Support &amp; App...</text></g>
<g id="n-interpers-conflict"><circle class="nb" cx="586" cy="1208" r="11" stroke-width="2.5"/><text x="586" y="1208">Interpers. Conflict</text></g>
<g id="n-career"><circle class="ng" cx="1198" cy="1117" r="11" stroke-width="2.5"/><text class="st" x="1090" y="1117">Career Intentions &amp;</text></g>
<g id="n-unsatisfactory"><circle class="ng" cx="1338" cy="1127" r="11" stroke-width="2.5"/><text x="1338" y="1127">Unsatisfactory Care</text></g>
<g id="n-anger"><circle class="ng" cx="1054" cy="1152" r="11" stroke-width="2.5"/><text x="1054" y="1152">Anger &amp; Frustration</text></g>
<g id="n-post-covid"><circle class="ng" cx="1171" cy="1212" r="11" stroke-width="2.5"/><text x="1171" y="1212">Post COVID</text></g>
<g id="n-phys-psych"><circle class="ng" cx="1591" cy="564" r="10" stroke-width="2"/><text x="1591" y="564">Phys. &amp; Psych. Ill H...</text></g>
<g id="n-socsupport-private"><circle class="no" cx="1166" cy="22" r="9" stroke-width="2"/><text x="1166" y="22">Soc.Support (Private)</text></g>
<g id="n-attachment"><circle class="ng" cx="1650" cy="767" r="9" stroke-width="2"/><text x="1650" y="767">Attachment to Patien...</text></g>
<g id="n-empathy"><circle class="no" cx="351" cy="64" r="8.5" stroke-width="2"/><text x="351" y="64">Empathy &amp; Compassion</text></g>
<g id="n-pride"><circle class="nb" cx="319" cy="1175" r="8.5" stroke-width="2"/><text x="319" y="1175">Pride, Confidence &amp; ...</text></g>
</g>
</svg>
